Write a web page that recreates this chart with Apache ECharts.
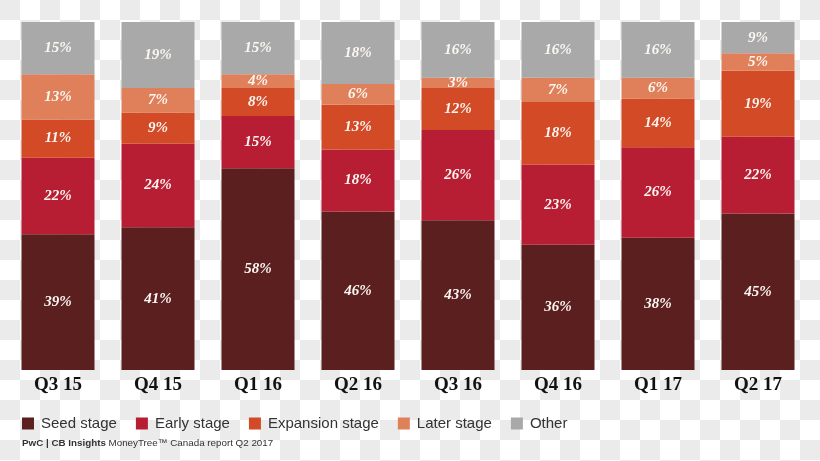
<!DOCTYPE html>
<html>
<head>
<meta charset="utf-8">
<script src="https://cdn.jsdelivr.net/npm/echarts@6/dist/echarts.min.js"></script>
<style>
html,body{margin:0;padding:0;}
body{width:820px;height:461px;background-color:#fff;
background-image:conic-gradient(#fff 0 25%, #ebebeb 0 50%, #fff 0 75%, #ebebeb 0);
background-size:40px 40px;}
#chart{width:820px;height:461px;}
</style>
</head>
<body>
<div id="chart"></div>
<script>
const categories = ['Q3 15','Q4 15','Q1 16','Q2 16','Q3 16','Q4 16','Q1 17','Q2 17'];
const seedStage = [39, 41, 58, 46, 43, 36, 38, 45];
const earlyStage = [22, 24, 15, 18, 26, 23, 26, 22];
const expansionStage = [11, 9, 8, 13, 12, 18, 14, 19];
const laterStage = [13, 7, 4, 6, 3, 7, 6, 5];
const other = [15, 19, 15, 18, 16, 16, 16, 9];

const seriesDefs = [
  {name:'Seed stage', data:seedStage, color:'#5c1f1f'},
  {name:'Early stage', data:earlyStage, color:'#b81e33'},
  {name:'Expansion stage', data:expansionStage, color:'#d24b26'},
  {name:'Later stage', data:laterStage, color:'#e0805b'},
  {name:'Other', data:other, color:'#a9a9a9'}
];
const totals = categories.map((c,i)=>seriesDefs.reduce((s,d)=>s+d.data[i],0));

const chart = echarts.init(document.getElementById('chart'), null, {renderer:'canvas'});
chart.setOption({
  backgroundColor:'transparent',
  animation:false,
  grid:{left:8, right:12, top:22, bottom:91},
  xAxis:{type:'category', data:categories,
    axisLine:{show:false}, axisTick:{show:false},
    axisLabel:{margin:6, color:'#111', fontFamily:'Liberation Serif', fontWeight:'bold', fontSize:19}},
  yAxis:{type:'value', min:0, max:100, show:false, splitLine:{show:false}},
  legend:{left:22, top:416, padding:0, itemWidth:12, itemHeight:12, itemGap:19,
    icon:'rect',
    textStyle:{fontFamily:'Liberation Sans', fontSize:15, color:'#333', padding:[0,0,0,2]},
    data:seriesDefs.map(d=>d.name)},
  graphic:[{type:'text', left:22, top:438,
    style:{text:'{b|PwC | CB Insights} MoneyTree™ Canada report Q2 2017',
      font:'9.8px "Liberation Sans"', fill:'#333',
      rich:{b:{fontWeight:'bold', fontSize:9.8, fontFamily:'Liberation Sans', fill:'#333'}}}}],
  series:seriesDefs.map(d=>({
    name:d.name, type:'bar', stack:'all', barWidth:73,
    itemStyle:{color:d.color},
    data:d.data.map((v,i)=>({value:v*100/totals[i], raw:v})),
    label:{show:true, position:'inside', color:'#fbf7f3',
      fontFamily:'Liberation Serif', fontStyle:'italic', fontWeight:'bold', fontSize:15,
      formatter:p=>p.data.raw+'%'}
  }))
});
</script>
</body>
</html>
